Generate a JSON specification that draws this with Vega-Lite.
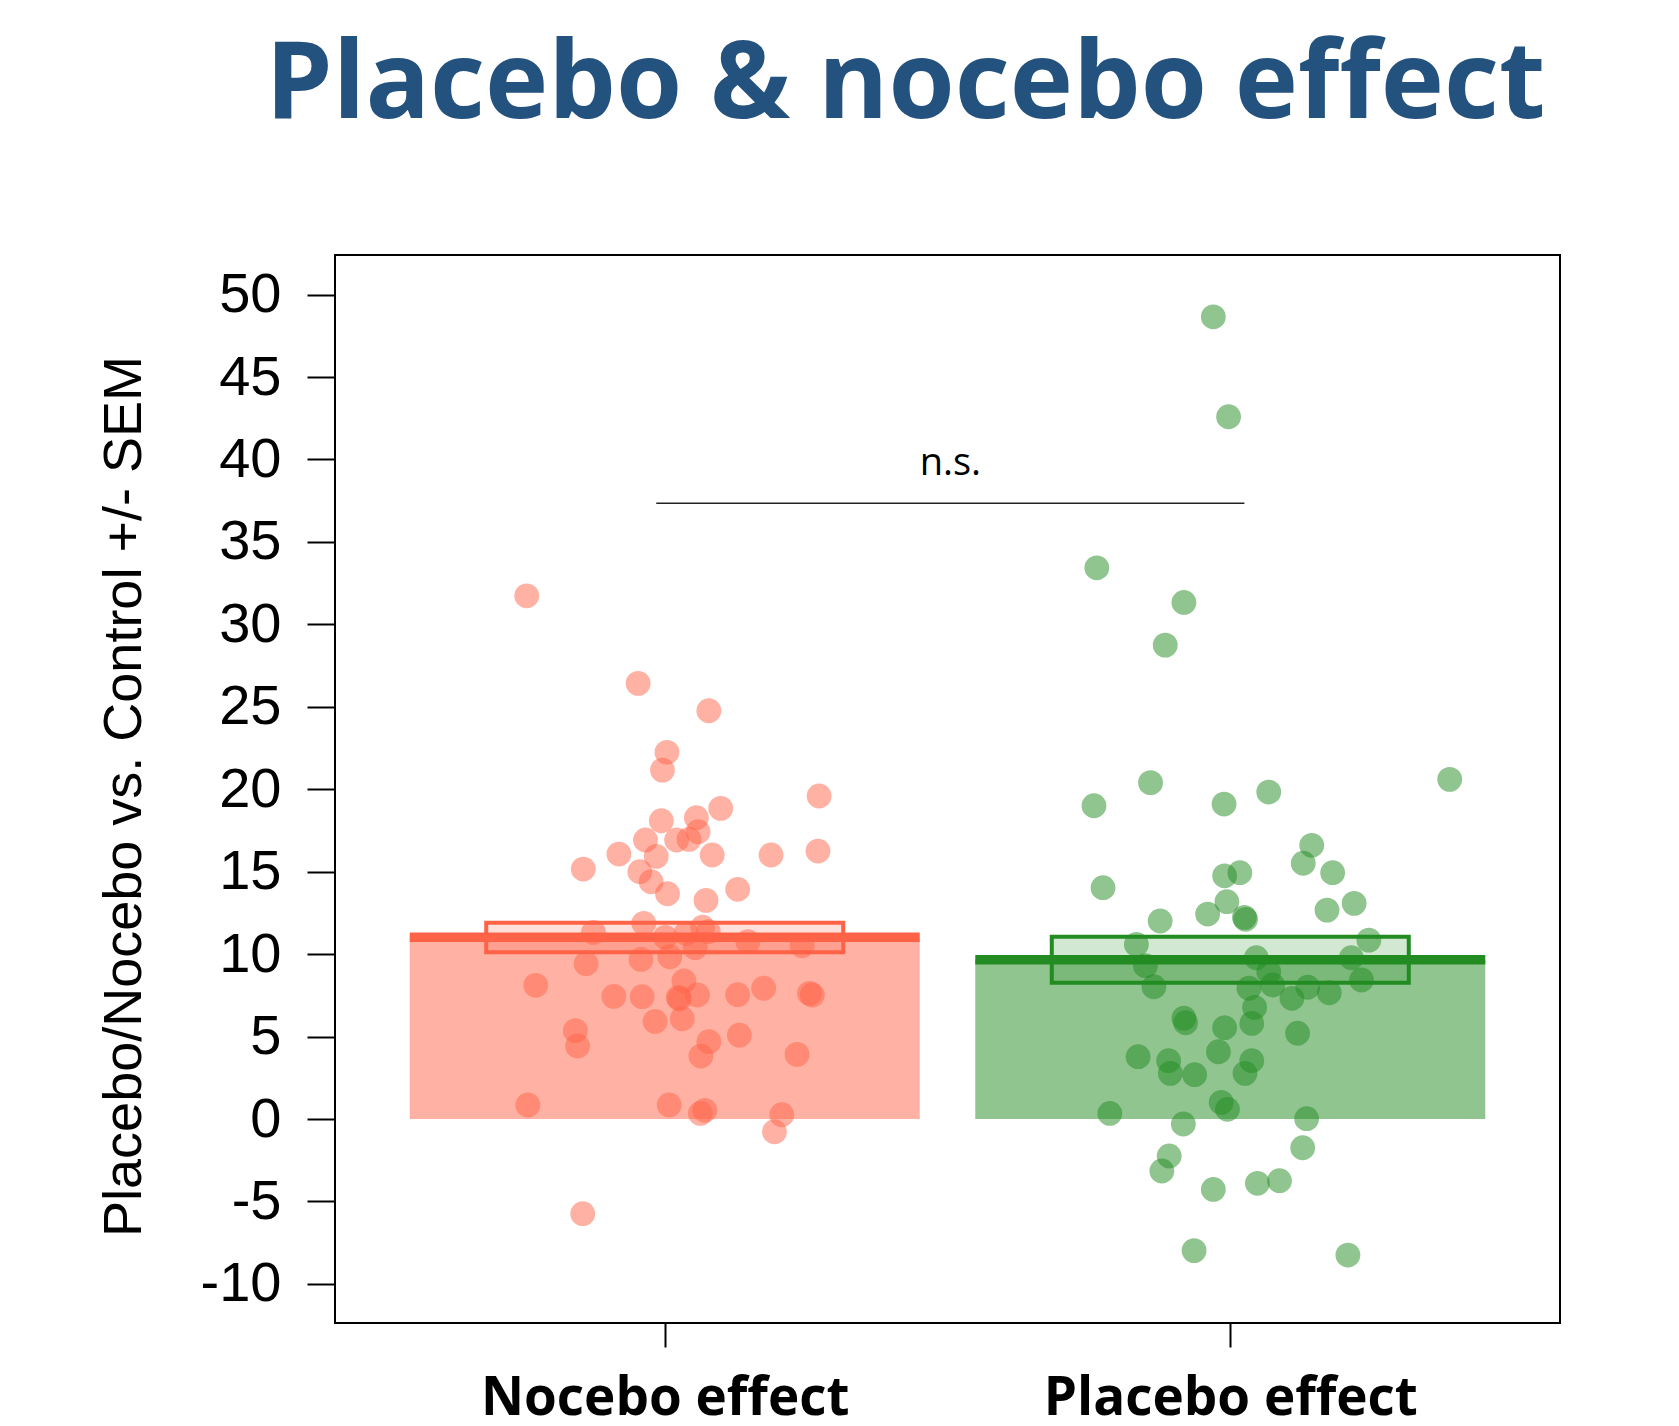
{
  "$schema": "https://vega.github.io/schema/vega-lite/v6.json",
  "autosize": {"type": "none"},
  "width": 1225,
  "height": 1068,
  "padding": {"left": 335, "top": 255, "right": 119, "bottom": 103},
  "background": "white",
  "title": {
    "text": "Placebo & nocebo effect",
    "font": "Open Sans",
    "fontSize": 107,
    "fontWeight": "bold",
    "color": "#24527F",
    "anchor": "middle",
    "baseline": "alphabetic",
    "dx": -42,
    "offset": 30
  },
  "datasets": {
    "points": [
      {"group": "Nocebo effect", "pos": 0.756, "value": 31.73},
      {"group": "Nocebo effect", "pos": 0.953, "value": 26.42},
      {"group": "Nocebo effect", "pos": 1.078, "value": 24.76},
      {"group": "Nocebo effect", "pos": 1.004, "value": 22.24},
      {"group": "Nocebo effect", "pos": 0.996, "value": 21.16},
      {"group": "Nocebo effect", "pos": 1.273, "value": 19.59},
      {"group": "Nocebo effect", "pos": 1.099, "value": 18.84},
      {"group": "Nocebo effect", "pos": 0.994, "value": 18.09},
      {"group": "Nocebo effect", "pos": 1.056, "value": 18.27},
      {"group": "Nocebo effect", "pos": 1.059, "value": 17.42},
      {"group": "Nocebo effect", "pos": 0.966, "value": 16.92},
      {"group": "Nocebo effect", "pos": 1.021, "value": 16.92},
      {"group": "Nocebo effect", "pos": 1.043, "value": 16.96},
      {"group": "Nocebo effect", "pos": 0.919, "value": 16.07},
      {"group": "Nocebo effect", "pos": 0.985, "value": 15.93},
      {"group": "Nocebo effect", "pos": 1.084, "value": 16.01},
      {"group": "Nocebo effect", "pos": 1.188, "value": 16.01},
      {"group": "Nocebo effect", "pos": 1.271, "value": 16.25},
      {"group": "Nocebo effect", "pos": 0.856, "value": 15.16},
      {"group": "Nocebo effect", "pos": 0.956, "value": 15.0},
      {"group": "Nocebo effect", "pos": 0.976, "value": 14.39},
      {"group": "Nocebo effect", "pos": 1.005, "value": 13.66},
      {"group": "Nocebo effect", "pos": 1.073, "value": 13.26},
      {"group": "Nocebo effect", "pos": 1.129, "value": 13.93},
      {"group": "Nocebo effect", "pos": 0.874, "value": 11.32},
      {"group": "Nocebo effect", "pos": 0.963, "value": 11.87},
      {"group": "Nocebo effect", "pos": 1.001, "value": 11.02},
      {"group": "Nocebo effect", "pos": 1.038, "value": 11.26},
      {"group": "Nocebo effect", "pos": 1.067, "value": 11.63},
      {"group": "Nocebo effect", "pos": 1.077, "value": 11.36},
      {"group": "Nocebo effect", "pos": 1.054, "value": 10.39},
      {"group": "Nocebo effect", "pos": 1.147, "value": 10.75},
      {"group": "Nocebo effect", "pos": 1.243, "value": 10.51},
      {"group": "Nocebo effect", "pos": 0.958, "value": 9.68},
      {"group": "Nocebo effect", "pos": 1.009, "value": 9.84},
      {"group": "Nocebo effect", "pos": 0.861, "value": 9.42},
      {"group": "Nocebo effect", "pos": 0.772, "value": 8.11},
      {"group": "Nocebo effect", "pos": 1.034, "value": 8.37},
      {"group": "Nocebo effect", "pos": 0.91, "value": 7.44},
      {"group": "Nocebo effect", "pos": 0.96, "value": 7.42},
      {"group": "Nocebo effect", "pos": 1.024, "value": 7.38},
      {"group": "Nocebo effect", "pos": 1.026, "value": 7.28},
      {"group": "Nocebo effect", "pos": 1.058, "value": 7.52},
      {"group": "Nocebo effect", "pos": 1.129, "value": 7.54},
      {"group": "Nocebo effect", "pos": 1.175, "value": 7.93},
      {"group": "Nocebo effect", "pos": 1.256, "value": 7.62},
      {"group": "Nocebo effect", "pos": 1.261, "value": 7.52},
      {"group": "Nocebo effect", "pos": 0.983, "value": 5.92},
      {"group": "Nocebo effect", "pos": 1.031, "value": 6.08},
      {"group": "Nocebo effect", "pos": 0.842, "value": 5.36},
      {"group": "Nocebo effect", "pos": 0.846, "value": 4.43},
      {"group": "Nocebo effect", "pos": 1.078, "value": 4.69},
      {"group": "Nocebo effect", "pos": 1.064, "value": 3.82},
      {"group": "Nocebo effect", "pos": 1.132, "value": 5.09},
      {"group": "Nocebo effect", "pos": 1.234, "value": 3.92},
      {"group": "Nocebo effect", "pos": 0.758, "value": 0.85},
      {"group": "Nocebo effect", "pos": 1.008, "value": 0.85},
      {"group": "Nocebo effect", "pos": 1.063, "value": 0.34},
      {"group": "Nocebo effect", "pos": 1.071, "value": 0.53},
      {"group": "Nocebo effect", "pos": 1.207, "value": 0.26},
      {"group": "Nocebo effect", "pos": 1.194, "value": -0.77},
      {"group": "Nocebo effect", "pos": 0.855, "value": -5.74},
      {"group": "Placebo effect", "pos": 1.97, "value": 48.65},
      {"group": "Placebo effect", "pos": 1.997, "value": 42.59},
      {"group": "Placebo effect", "pos": 1.764, "value": 33.43},
      {"group": "Placebo effect", "pos": 1.918, "value": 31.33},
      {"group": "Placebo effect", "pos": 1.885, "value": 28.74},
      {"group": "Placebo effect", "pos": 1.759, "value": 19.0},
      {"group": "Placebo effect", "pos": 1.859, "value": 20.4},
      {"group": "Placebo effect", "pos": 1.989, "value": 19.1},
      {"group": "Placebo effect", "pos": 2.068, "value": 19.83},
      {"group": "Placebo effect", "pos": 2.388, "value": 20.6},
      {"group": "Placebo effect", "pos": 2.144, "value": 16.6},
      {"group": "Placebo effect", "pos": 2.129, "value": 15.51},
      {"group": "Placebo effect", "pos": 2.181, "value": 14.94},
      {"group": "Placebo effect", "pos": 1.775, "value": 14.03},
      {"group": "Placebo effect", "pos": 1.99, "value": 14.75},
      {"group": "Placebo effect", "pos": 2.017, "value": 14.94},
      {"group": "Placebo effect", "pos": 1.994, "value": 13.18},
      {"group": "Placebo effect", "pos": 1.96, "value": 12.43},
      {"group": "Placebo effect", "pos": 2.025, "value": 12.23},
      {"group": "Placebo effect", "pos": 2.027, "value": 12.11},
      {"group": "Placebo effect", "pos": 2.171, "value": 12.67},
      {"group": "Placebo effect", "pos": 2.219, "value": 13.08},
      {"group": "Placebo effect", "pos": 1.876, "value": 12.01},
      {"group": "Placebo effect", "pos": 2.245, "value": 10.85},
      {"group": "Placebo effect", "pos": 1.834, "value": 10.59},
      {"group": "Placebo effect", "pos": 1.85, "value": 9.3},
      {"group": "Placebo effect", "pos": 2.046, "value": 9.78},
      {"group": "Placebo effect", "pos": 2.068, "value": 8.93},
      {"group": "Placebo effect", "pos": 2.214, "value": 9.78},
      {"group": "Placebo effect", "pos": 2.232, "value": 8.43},
      {"group": "Placebo effect", "pos": 1.865, "value": 8.02},
      {"group": "Placebo effect", "pos": 2.033, "value": 7.93},
      {"group": "Placebo effect", "pos": 2.075, "value": 8.13},
      {"group": "Placebo effect", "pos": 2.137, "value": 7.99},
      {"group": "Placebo effect", "pos": 2.175, "value": 7.66},
      {"group": "Placebo effect", "pos": 2.109, "value": 7.32},
      {"group": "Placebo effect", "pos": 2.043, "value": 6.77},
      {"group": "Placebo effect", "pos": 1.918, "value": 6.11},
      {"group": "Placebo effect", "pos": 1.921, "value": 5.84},
      {"group": "Placebo effect", "pos": 1.99, "value": 5.54},
      {"group": "Placebo effect", "pos": 2.038, "value": 5.8},
      {"group": "Placebo effect", "pos": 2.119, "value": 5.2},
      {"group": "Placebo effect", "pos": 1.837, "value": 3.78},
      {"group": "Placebo effect", "pos": 1.891, "value": 3.54},
      {"group": "Placebo effect", "pos": 1.894, "value": 2.77},
      {"group": "Placebo effect", "pos": 1.937, "value": 2.69},
      {"group": "Placebo effect", "pos": 1.979, "value": 4.08},
      {"group": "Placebo effect", "pos": 2.038, "value": 3.54},
      {"group": "Placebo effect", "pos": 2.026, "value": 2.77},
      {"group": "Placebo effect", "pos": 1.984, "value": 1.01},
      {"group": "Placebo effect", "pos": 1.995, "value": 0.59},
      {"group": "Placebo effect", "pos": 1.787, "value": 0.34},
      {"group": "Placebo effect", "pos": 2.135, "value": 0.02},
      {"group": "Placebo effect", "pos": 1.917, "value": -0.3},
      {"group": "Placebo effect", "pos": 2.128, "value": -1.74},
      {"group": "Placebo effect", "pos": 1.892, "value": -2.24},
      {"group": "Placebo effect", "pos": 1.879, "value": -3.15},
      {"group": "Placebo effect", "pos": 1.97, "value": -4.27},
      {"group": "Placebo effect", "pos": 2.048, "value": -3.9},
      {"group": "Placebo effect", "pos": 2.087, "value": -3.74},
      {"group": "Placebo effect", "pos": 1.936, "value": -7.98},
      {"group": "Placebo effect", "pos": 2.208, "value": -8.25}
    ],
    "summary": [
      {"group": "Nocebo effect", "pos": 1, "mean": 11.02, "sem_low": 10.11, "sem_high": 11.91},
      {"group": "Placebo effect", "pos": 2, "mean": 9.66, "sem_low": 8.27, "sem_high": 11.06}
    ],
    "annot": [
      {"label": "n.s.", "start": 0.985, "end": 2.025, "mid": 1.505, "line_y": 37.34, "text_y": 39.03}
    ]
  },
  "encoding": {
    "x": {
      "field": "pos",
      "type": "quantitative",
      "scale": {"domain": [0.417, 2.583], "nice": false, "zero": false, "padding": 0},
      "axis": {
        "values": [1, 2],
        "labelExpr": "datum.value == 1 ? 'Nocebo effect' : 'Placebo effect'",
        "title": null,
        "domain": false,
        "grid": false,
        "ticks": true,
        "tickSize": 24,
        "tickWidth": 2,
        "tickColor": "black",
        "labelFont": "Open Sans",
        "labelFontWeight": "bold",
        "labelFontSize": 53,
        "labelColor": "black",
        "labelPadding": 25,
        "labelLimit": 0
      }
    }
  },
  "layer": [
    {
      "data": {"name": "summary"},
      "mark": {"type": "bar", "width": 510, "opacity": 0.5},
      "encoding": {
        "y": {
          "field": "mean",
          "type": "quantitative",
          "scale": {"domain": [-12.37, 52.4], "nice": false, "zero": false, "padding": 0},
          "axis": {
            "values": [-10, -5, 0, 5, 10, 15, 20, 25, 30, 35, 40, 45, 50],
            "labelExpr": "'' + datum.value",
            "title": "Placebo/Nocebo vs. Control +/- SEM",
            "titleFont": "Liberation Sans",
            "titleFontSize": 54,
            "titleFontWeight": "normal",
            "titleColor": "black",
            "titlePadding": 49,
            "titleY": 541,
            "domain": false,
            "grid": false,
            "tickSize": 28,
            "tickWidth": 2,
            "tickColor": "black",
            "labelFont": "Liberation Sans",
            "labelFontSize": 56,
            "labelColor": "black",
            "labelPadding": 26,
            "labelOverlap": false
          }
        },
        "y2": {"datum": 0},
        "fill": {
          "field": "group",
          "type": "nominal",
          "scale": {"domain": ["Nocebo effect", "Placebo effect"], "range": ["#FF6347", "#228B22"]},
          "legend": null
        }
      }
    },
    {
      "data": {"name": "points"},
      "mark": {"type": "circle", "size": 616, "opacity": 0.5},
      "encoding": {
        "y": {"field": "value", "type": "quantitative"},
        "fill": {"field": "group", "type": "nominal", "legend": null}
      }
    },
    {
      "data": {"name": "summary"},
      "mark": {"type": "bar", "width": 357, "fillOpacity": 0.2, "strokeOpacity": 1, "strokeWidth": 4, "cornerRadius": 0},
      "encoding": {
        "y": {"field": "sem_low", "type": "quantitative"},
        "y2": {"field": "sem_high"},
        "fill": {"field": "group", "type": "nominal", "legend": null},
        "stroke": {"field": "group", "type": "nominal", "scale": {"domain": ["Nocebo effect", "Placebo effect"], "range": ["#FF6347", "#228B22"]}, "legend": null}
      }
    },
    {
      "data": {"name": "summary"},
      "mark": {"type": "tick", "orient": "horizontal", "size": 510, "thickness": 9.5, "opacity": 1},
      "encoding": {
        "y": {"field": "mean", "type": "quantitative"},
        "color": {"field": "group", "type": "nominal", "scale": {"domain": ["Nocebo effect", "Placebo effect"], "range": ["#FF6347", "#228B22"]}, "legend": null}
      }
    },
    {
      "data": {"name": "annot"},
      "mark": {"type": "rule", "color": "#222222", "strokeWidth": 1.5},
      "encoding": {
        "x": {"field": "start", "type": "quantitative"},
        "x2": {"field": "end"},
        "y": {"field": "line_y", "type": "quantitative"}
      }
    },
    {
      "data": {"name": "annot"},
      "mark": {"type": "text", "font": "Open Sans", "fontSize": 38, "color": "black", "align": "center", "baseline": "alphabetic"},
      "encoding": {
        "x": {"field": "mid", "type": "quantitative"},
        "y": {"field": "text_y", "type": "quantitative"},
        "text": {"field": "label"}
      }
    }
  ],
  "config": {
    "view": {"stroke": "black", "strokeWidth": 2},
    "axis": {"grid": false}
  }
}
